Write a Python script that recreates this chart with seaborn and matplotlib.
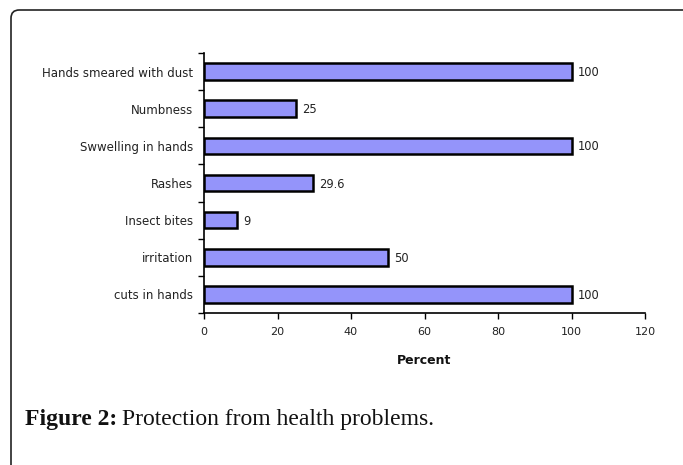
import matplotlib
matplotlib.use("Agg")
import matplotlib.pyplot as plt
import seaborn as sns
import pandas as pd
from matplotlib.patches import FancyBboxPatch
from matplotlib.ticker import FixedLocator

categories = ["Hands smeared with dust", "Numbness", "Swwelling in hands", "Rashes",
              "Insect bites", "irritation", "cuts in hands"]
values = [100, 25, 100, 29.6, 9, 50, 100]
value_labels = ["100", "25", "100", "29.6", "9", "50", "100"]
x_ticks = [0, 20, 40, 60, 80, 100, 120]

sns.set_theme(style="white")
plt.rcParams['font.family'] = ['DejaVu Sans']

df = pd.DataFrame({"cat": categories, "val": values})

fig = plt.figure(figsize=(6.83, 4.65), dpi=100)
ax = fig.add_axes([204/683, 1-313/465, (645-204)/683, (313-53)/465])

sns.barplot(data=df, x="val", y="cat", orient="h", color="#9494FA", saturation=1,
            edgecolor="black", linewidth=1.8, width=0.45, ax=ax)

ax.set_xlim(0, 120)
ax.set_ylim(len(categories)-0.5, -0.5)
ax.set_xticks(x_ticks)
ax.set_xticklabels([str(t) for t in x_ticks], fontsize=8)
ax.tick_params(axis='x', direction='out', length=4, width=1, color='black', pad=6, labelcolor='#222222')
ax.tick_params(axis='y', which='major', length=0, pad=8, labelsize=8.5, labelcolor='#222222')
ax.yaxis.set_minor_locator(FixedLocator([i - 0.5 for i in range(len(categories)+1)]))
ax.tick_params(axis='y', which='minor', direction='out', length=4, width=1, color='black', left=True)
ax.tick_params(axis='x', bottom=True)

for s in ['top', 'right']:
    ax.spines[s].set_visible(False)
for s in ['left', 'bottom']:
    ax.spines[s].set_color('black')
    ax.spines[s].set_linewidth(1.2)

for i, (v, lab) in enumerate(zip(values, value_labels)):
    ax.text(v + 1.8, i + 0.03, lab, va='center', ha='left', fontsize=8.3, color='#222222')

ax.set_ylabel("")
ax.set_xlabel("Percent", fontsize=9, fontweight='bold', labelpad=12, color='#111111')

# frame border with rounded top-left corner
frame = FancyBboxPatch((11/683, -0.2), 2.0, 1 - 10/465 + 0.2,
                       boxstyle="round,pad=0,rounding_size=0.012",
                       transform=fig.transFigure, fill=False, edgecolor='#222222',
                       linewidth=1.2, mutation_aspect=683/465)
fig.patches.append(frame)

serif = ['Liberation Serif', 'DejaVu Serif']
t1 = fig.text(25/683, 1-425/465, "Figure 2:", fontsize=17, fontweight='bold',
              family=serif, ha='left', va='baseline', color='#111111')
fig.canvas.draw()
bb = t1.get_window_extent(renderer=fig.canvas.get_renderer())
x2 = (bb.x1 + 5) / fig.bbox.width
fig.text(x2, 1-425/465, "Protection from health problems.", fontsize=17,
         family=serif, ha='left', va='baseline', color='#111111')

fig.savefig("out.png", dpi=100)
